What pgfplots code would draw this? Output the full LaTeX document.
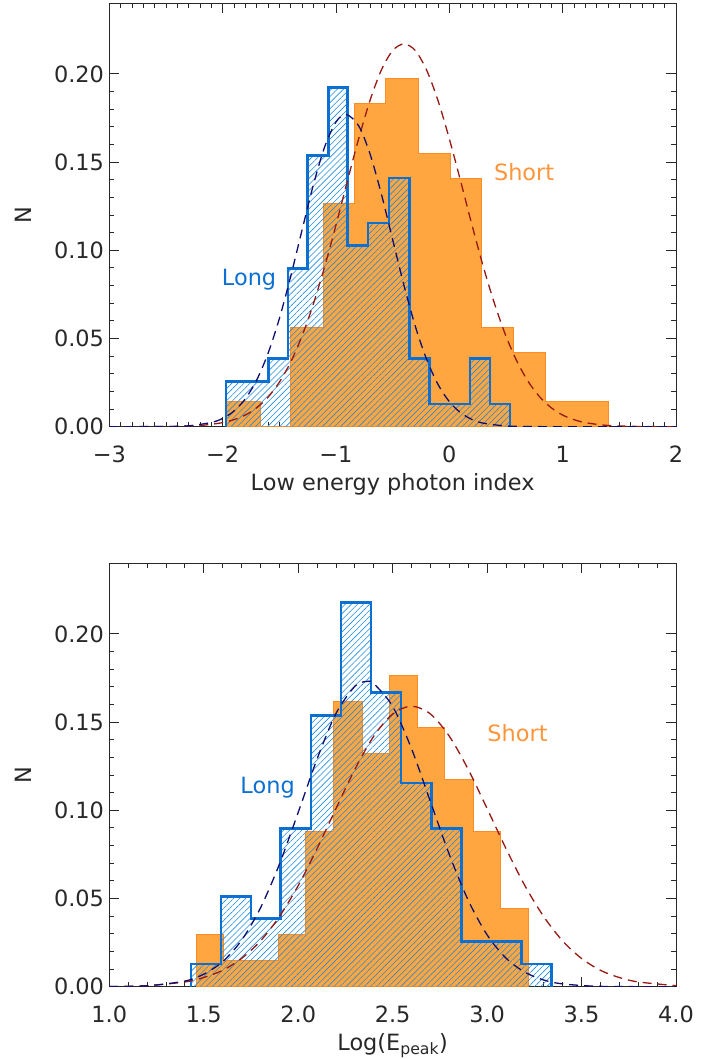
\documentclass[border=0pt]{standalone}
\usepackage{fontspec}
\setmainfont{DejaVu Sans}
\usepackage{pgfplots}
\pgfplotsset{compat=1.18}
\usetikzlibrary{patterns.meta}

\definecolor{shortfill}{RGB}{255,166,64}
\definecolor{shortedge}{RGB}{255,140,35}
\definecolor{longblue}{RGB}{12,112,210}
\definecolor{hatchblue}{RGB}{30,140,225}
\definecolor{fitnavy}{RGB}{15,15,115}
\definecolor{fitred}{RGB}{150,25,20}
\definecolor{axisgray}{RGB}{40,40,40}

\newcommand{\lblfont}{\fontsize{22.5}{27}\selectfont}

% histograms: (left edge, height), closed at both ends
\pgfplotstableread{
x y
-1.962 0
-1.962 0.0141
-1.665 0
-1.399 0.0563
-1.111 0.1268
-0.838 0.1831
-0.561 0.1972
-0.273 0.1549
0.007 0.1408
0.287 0.0563
0.566 0.0423
0.846 0.0141
1.404 0.0141
1.404 0
}\alphashort
\pgfplotstableread{
x y
-1.970 0
-1.970 0.0256
-1.594 0.0385
-1.425 0.0897
-1.249 0.1538
-1.067 0.1923
-0.896 0.1026
-0.719 0.1154
-0.531 0.1410
-0.352 0.0385
-0.176 0.0128
0.184 0.0385
0.360 0.0128
0.537 0.0128
0.537 0
}\alphalong
\pgfplotstableread{
x y
1.459 0
1.459 0.0294
1.604 0.0147
1.895 0.0294
2.041 0.0882
2.186 0.1618
2.339 0.1324
2.481 0.1765
2.633 0.1471
2.777 0.1176
2.927 0.0882
3.072 0.0441
3.218 0.0441
3.218 0
}\epshort
\pgfplotstableread{
x y
1.433 0
1.433 0.0128
1.591 0.0513
1.750 0.0385
1.907 0.0897
2.068 0.1538
2.227 0.2179
2.385 0.1667
2.544 0.1154
2.707 0.0897
2.865 0.0256
3.183 0.0128
3.342 0.0128
3.342 0
}\eplong

\pgfplotsset{
  histo/.style={
    width=566.7bp, height=423.4bp, scale only axis,
    anchor=north west,
    ymin=0, ymax=0.24,
    ytick={0,0.05,0.10,0.15,0.20},
    yticklabels={0.00,0.05,0.10,0.15,0.20},
    minor y tick num=4,
    major tick length=10bp, minor tick length=5bp,
    tick pos=both,
    tick style={axisgray, line width=0.9bp},
    axis line style={axisgray, line width=0.9bp},
    tick label style={font=\lblfont, text=axisgray},
    label style={font=\lblfont, text=axisgray},
    xticklabel style={anchor=base, yshift=-35.3bp},
    yticklabel style={anchor=east, xshift=-1.8bp},
    ylabel={N},
    ylabel style={at={(axis description cs:-0.152,0.5)}, anchor=center},
    xlabel style={at={(axis description cs:0.5,-0.1495)}, anchor=base},
  },
  shortbar/.style={const plot, fill=shortfill, draw=shortedge, line width=1bp},
  longhatch/.style={const plot, draw=none,
    pattern={Lines[angle=45, distance=4.3bp, line width=0.6bp]},
    pattern color=hatchblue},
  longline/.style={const plot, draw=longblue, line width=2.6bp},
  fit/.style={smooth, line width=1.3bp, dash pattern=on 9bp off 6bp},
}

\begin{document}
\begin{tikzpicture}
\useasboundingbox (0,0) rectangle (715bp,-1059bp);

\begin{axis}[histo, at={(109.3bp,-3.3bp)},
  xmin=-3, xmax=2,
  xtick={-3,-2,-1,0,1,2},
  xticklabels={−3,−2,−1,0,1,2},
  minor x tick num=9,
  xlabel={Low energy photon index}]
\addplot[shortbar] table {\alphashort} \closedcycle;
\addplot[longhatch] table {\alphalong} \closedcycle;
\addplot[longline] table {\alphalong};
\addplot[fit, fitred] coordinates {
  (-3.0,0.0000) (-2.5,0.0001) (-2.2,0.0007) (-2.0,0.0023) (-1.9,0.0040)
  (-1.8,0.0066) (-1.7,0.0107) (-1.6,0.0167) (-1.5,0.0252) (-1.4,0.0366)
  (-1.3,0.0513) (-1.2,0.0695) (-1.1,0.0907) (-1.0,0.1143) (-0.9,0.1391)
  (-0.8,0.1632) (-0.7,0.1849) (-0.6,0.2021) (-0.5,0.2132) (-0.4,0.2170)
  (-0.3,0.2132) (-0.2,0.2021) (-0.1,0.1849) (0.0,0.1632) (0.1,0.1391)
  (0.2,0.1143) (0.3,0.0907) (0.4,0.0695) (0.5,0.0513) (0.6,0.0366)
  (0.7,0.0252) (0.8,0.0167) (0.9,0.0107) (1.0,0.0066) (1.1,0.0040)
  (1.2,0.0023) (1.4,0.0007) (1.7,0.0001) (2.0,0.0000)
};
\addplot[fit, fitnavy] coordinates {
  (-3.0,0.0000) (-2.5,0.0001) (-2.3,0.0005) (-2.1,0.0024) (-2.0,0.0047)
  (-1.9,0.0089) (-1.8,0.0158) (-1.7,0.0264) (-1.6,0.0415) (-1.5,0.0612)
  (-1.4,0.0851) (-1.3,0.1113) (-1.2,0.1370) (-1.1,0.1586) (-1.0,0.1727)
  (-0.91,0.1770) (-0.8,0.1706) (-0.7,0.1547) (-0.6,0.1320) (-0.5,0.1060)
  (-0.4,0.0801) (-0.3,0.0569) (-0.2,0.0381) (-0.1,0.0240) (0.0,0.0142)
  (0.1,0.0079) (0.2,0.0041) (0.3,0.0020) (0.5,0.0004) (0.7,0.0001)
  (1.0,0.0000) (2.0,0.0000)
};
\node[font=\lblfont, text=longblue, anchor=base] at (axis cs:-1.767,0.0801) {Long};
\node[font=\lblfont, text=shortfill!90!red, anchor=base] at (axis cs:0.66,0.1393) {Short};
\end{axis}

\begin{axis}[histo, at={(109.3bp,-563.3bp)},
  xmin=1, xmax=4,
  xtick={1,1.5,2,2.5,3,3.5,4},
  xticklabels={1.0,1.5,2.0,2.5,3.0,3.5,4.0},
  minor x tick num=4,
  xlabel={Log(E\textsubscript{peak})}]
\addplot[shortbar] table {\epshort} \closedcycle;
\addplot[longhatch] table {\eplong} \closedcycle;
\addplot[longline] table {\eplong};
\addplot[fit, fitred] coordinates {
  (1.0,0.0001) (1.2,0.0006) (1.4,0.0027) (1.5,0.0052) (1.6,0.0093)
  (1.7,0.0160) (1.8,0.0259) (1.9,0.0397) (2.0,0.0573) (2.1,0.0783)
  (2.2,0.1010) (2.3,0.1232) (2.4,0.1420) (2.5,0.1546) (2.6,0.1590)
  (2.7,0.1546) (2.8,0.1420) (2.9,0.1232) (3.0,0.1010) (3.1,0.0783)
  (3.2,0.0573) (3.3,0.0397) (3.4,0.0259) (3.5,0.0160) (3.6,0.0093)
  (3.7,0.0052) (3.8,0.0027) (4.0,0.0006)
};
\addplot[fit, fitnavy] coordinates {
  (1.0,0.0001) (1.2,0.0005) (1.4,0.0032) (1.5,0.0071) (1.6,0.0142)
  (1.7,0.0263) (1.8,0.0446) (1.9,0.0693) (2.0,0.0988) (2.1,0.1291)
  (2.2,0.1549) (2.3,0.1703) (2.36,0.1730) (2.4,0.1718) (2.5,0.1589)
  (2.6,0.1349) (2.7,0.1049) (2.8,0.0749) (2.9,0.0490) (3.0,0.0294)
  (3.1,0.0162) (3.2,0.0082) (3.3,0.0038) (3.4,0.0016) (3.6,0.0002)
  (4.0,0.0000)
};
\node[font=\lblfont, text=longblue, anchor=base] at (axis cs:1.838,0.1093) {Long};
\node[font=\lblfont, text=shortfill!90!red, anchor=base] at (axis cs:3.161,0.139) {Short};
\end{axis}
\end{tikzpicture}
\end{document}
